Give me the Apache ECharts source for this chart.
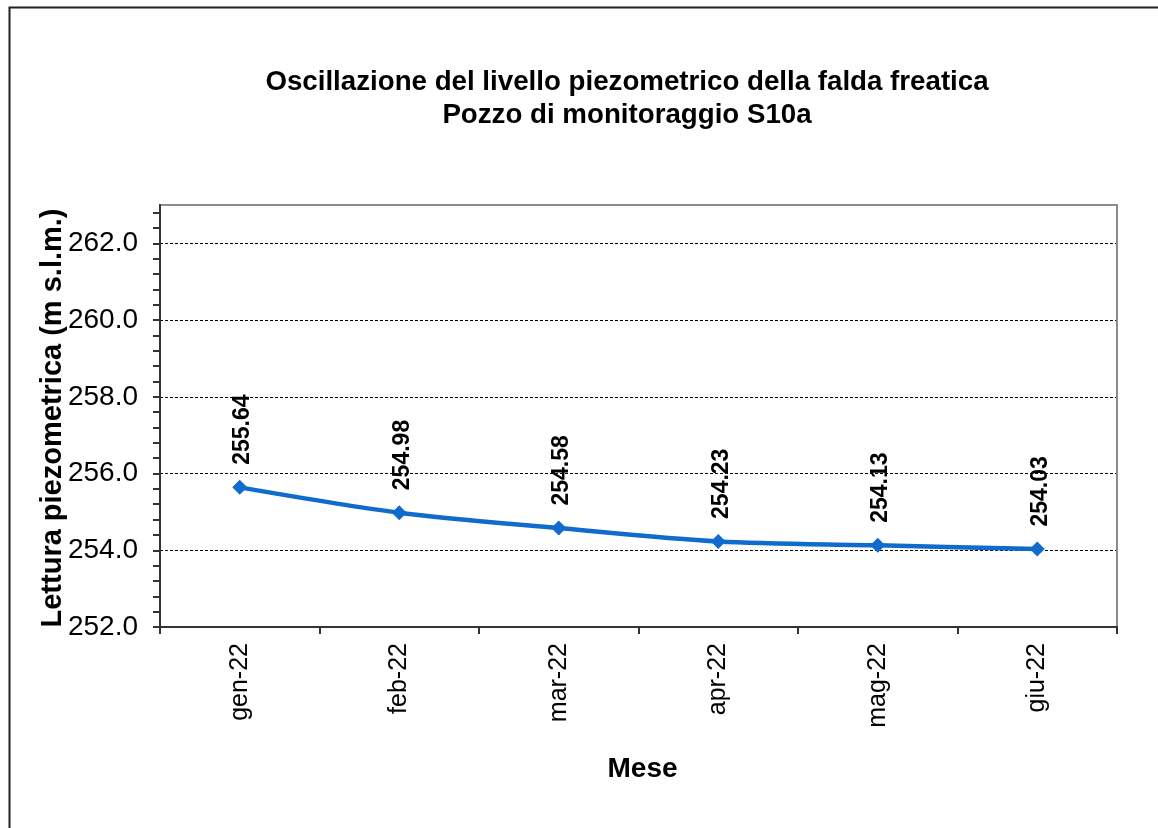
<!DOCTYPE html>
<html>
<head>
<meta charset="utf-8">
<script src="https://cdn.jsdelivr.net/npm/echarts@6/dist/echarts.min.js"></script>
<style>
html,body{margin:0;padding:0;background:#fff;}
#c{width:1158px;height:828px;}
</style>
</head>
<body>
<div id="c"></div>
<script>
const categories = ['gen-22','feb-22','mar-22','apr-22','mag-22','giu-22'];
const levels = [255.64, 254.98, 254.58, 254.23, 254.13, 254.03];
const titleLines = ['Oscillazione del livello piezometrico della falda freatica','Pozzo di monitoraggio S10a'];
const yName = 'Lettura piezometrica (m s.l.m.)';
const xName = 'Mese';
const yMin = 252, yMax = 263, yMajor = 2, yMinor = 0.4;

const FONT = "'Liberation Sans', Arial, sans-serif";
const chart = echarts.init(document.getElementById('c'), null, {renderer:'canvas'});
chart.setOption({
  animation: false,
  backgroundColor: '#fff',
  textStyle: {fontFamily: FONT},
  title: {
    text: titleLines.join('\n'),
    left: 622,
    textAlign: 'center',
    top: 61,
    textStyle: {fontFamily: FONT, fontSize: 27.7, fontWeight: 'bold', color: '#000', lineHeight: 33}
  },
  graphic: [{
    type: 'rect', left: 7, top: 5,
    shape: {width: 1200, height: 900},
    style: {fill: 'none', stroke: '#222', lineWidth: 2},
    silent: true
  }],
  grid: {left: 160, right: 41, top: 205, bottom: 201, show: true, z: 10, borderColor: '#8c8c8c', borderWidth: 2, backgroundColor: 'transparent'},
  xAxis: {
    type: 'category',
    z: 11,
    data: categories,
    boundaryGap: true,
    name: xName,
    nameLocation: 'middle',
    nameGap: 128,
    nameMoveOverlap: false,
    nameTextStyle: {fontFamily: FONT, fontSize: 28, fontWeight: 'bold', color: '#000', padding: [0, 0, 0, 8]},
    axisLine: {lineStyle: {color: '#333', width: 2}},
    axisTick: {show: true, alignWithLabel: false, length: 7, lineStyle: {color: '#333', width: 2}},
    axisLabel: {rotate: 90, fontSize: 25, color: '#000', margin: 16, fontFamily: FONT},
    splitLine: {show: false}
  },
  yAxis: [{
    type: 'value',
    z: 11,
    min: yMin, max: yMax, interval: yMinor,
    name: yName,
    nameLocation: 'middle',
    nameRotate: 90,
    nameGap: 93,
    nameMoveOverlap: false,
    nameTextStyle: {fontFamily: FONT, fontSize: 29, fontWeight: 'bold', color: '#000', padding: [0, 4, 0, 0]},
    axisLine: {show: true, lineStyle: {color: '#333', width: 2}},
    axisTick: {show: true, length: 7, lineStyle: {color: '#333', width: 2}},
    axisLabel: {
      fontSize: 28, color: '#000', margin: 22, fontFamily: FONT,
      showMaxLabel: false,
      formatter: function (v) {
        const k = Math.round((v - yMin) / yMajor);
        if (Math.abs(v - (yMin + k * yMajor)) < 1e-6 && v < yMax - 1e-6) return v.toFixed(1);
        return '';
      }
    },
    splitLine: {show: false}
  }, {
    type: 'value',
    z: 1,
    min: yMin, max: yMax, interval: yMajor,
    position: 'left',
    axisLine: {show: false},
    axisTick: {show: false},
    axisLabel: {show: false},
    splitLine: {show: true, lineStyle: {color: '#000', width: 1, type: [3, 2]}}
  }],
  series: [{
    type: 'line',
    yAxisIndex: 0,
    data: levels,
    smooth: 0.3,
    symbol: 'diamond',
    symbolSize: 15,
    lineStyle: {color: '#0f6bcc', width: 4.5},
    itemStyle: {color: '#0f6bcc'},
    label: {
      show: true,
      position: 'top',
      distance: 15,
      rotate: 90,
      align: 'left',
      verticalAlign: 'middle',
      offset: [0, 3],
      fontSize: 23,
      fontWeight: 'bold',
      color: '#000',
      fontFamily: FONT,
      formatter: function (p) { return p.value.toFixed(2); }
    },
    z: 5
  }]
});
</script>
</body>
</html>
